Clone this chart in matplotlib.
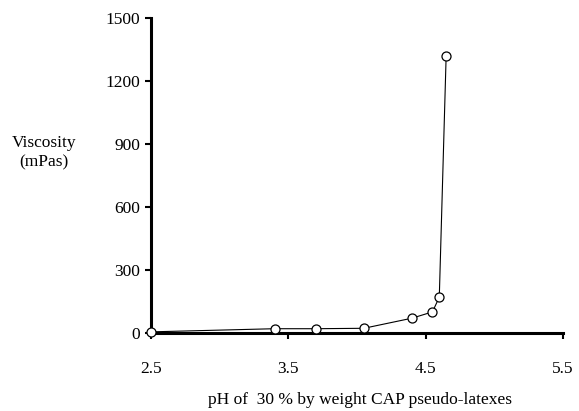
import numpy as np
import matplotlib.pyplot as plt

""" Data read off the picture """

ph = [2.5, 3.4, 3.7, 4.05, 4.4, 4.55, 4.6, 4.65]
viscosity = [5, 20, 20, 22, 70, 100, 170, 1320]

xticks = [2.5, 3.5, 4.5, 5.5]
yticks = [0, 300, 600, 900, 1200, 1500]

plt.rcParams["font.family"] = ["Liberation Serif", "DejaVu Serif"]

fig = plt.figure(figsize=(5.79, 4.11), dpi=100)
ax = fig.add_axes([0.261, 0.19, 0.711, 0.766])

ax.plot(ph, viscosity, "-", color="black", lw=0.8,
        marker="o", markersize=6.5, markerfacecolor="white",
        markeredgecolor="black", markeredgewidth=0.9, clip_on=False, zorder=3)

ax.set_xlim(2.5, 5.5)
ax.set_ylim(0, 1500)
ax.set_xticks(xticks)
ax.set_xticklabels([str(t) for t in xticks])
ax.set_yticks(yticks)

for s in ["top", "right"]:
    ax.spines[s].set_visible(False)
for s in ["left", "bottom"]:
    ax.spines[s].set_linewidth(2.2)

ax.tick_params(axis="both", direction="out", length=4, width=1.5,
               labelsize=12.5)
ax.tick_params(axis="x", pad=16)
ax.tick_params(axis="y", pad=4)

fig.text(0.076, 0.628, "Viscosity\n(mPas)", ha="center", va="center",
         fontsize=12.5, linespacing=1.25)
fig.text(0.622, 0.027, "pH of  30 % by weight CAP pseudo-latexes",
         ha="center", va="center", fontsize=12.5)

fig.savefig("out.png", dpi=100)
